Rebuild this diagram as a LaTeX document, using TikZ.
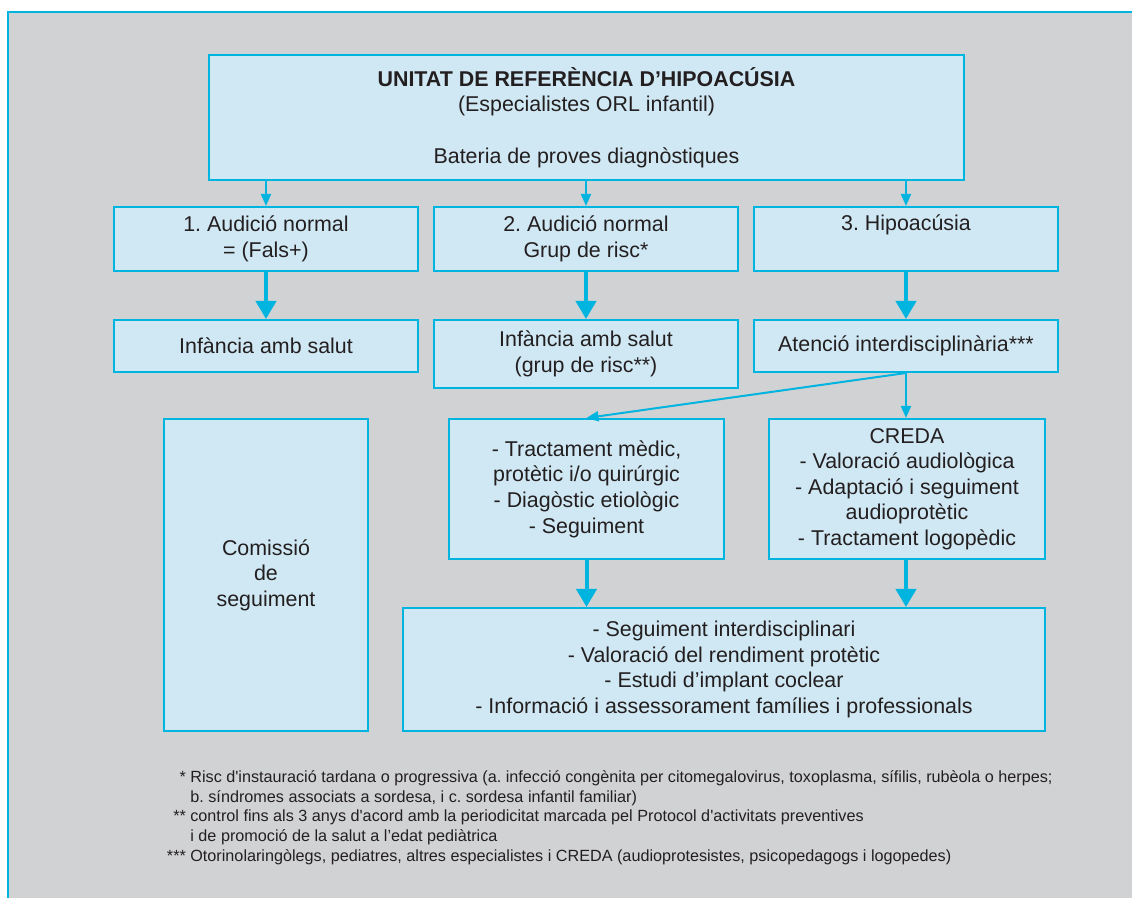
\documentclass[tikz,border=0pt]{standalone}
\usepackage{fontspec}
\setmainfont{Liberation Sans}
\usetikzlibrary{arrows.meta}
\definecolor{fonsgris}{HTML}{D1D2D4}
\definecolor{caixa}{HTML}{D0E8F3}
\definecolor{blau}{HTML}{00B4E0}
\definecolor{lletra}{HTML}{231F20}
\frenchspacing

\begin{document}
\begin{tikzpicture}[x=0.5pt,y=-0.5pt,
	caixa/.style={draw=blau,fill=caixa,line width=1pt,align=center,inner sep=0pt,
		text=lletra,font=\fontsize{10.7}{12.8}\selectfont},
	fletxa/.style={blau,line width=1pt,-{Triangle[width=5pt,length=6pt]}},
	fletxagran/.style={blau,line width=2pt,-{Triangle[width=10pt,length=9pt]}},
	nota/.style={align=left,inner sep=0pt,text=lletra,font=\fontsize{8.1}{9.85}\selectfont}]
	\useasboundingbox (0,0) rectangle (1132,898);
	\fill[fonsgris] (8,12) rectangle (1132,898);
	\draw[blau,line width=0.6pt] (8,898) -- (8,12) -- (1132,12);

	\node[caixa,minimum width=377.5pt,minimum height=62.5pt] (unitat) at (586.5,117.5)
		{\textbf{UNITAT DE REFERÈNCIA D’HIPOACÚSIA}\\(Especialistes ORL infantil)\\[12.8pt]Bateria de proves diagnòstiques};

	% primera fila
	\node[caixa,minimum width=152pt,minimum height=32pt] (normal) at (266,239) {1. Audició normal\\= (Fals+)};
	\node[caixa,minimum width=152pt,minimum height=32pt] (risc) at (586,239) {2. Audició normal\\Grup de risc*};
	\node[caixa,minimum width=152pt,minimum height=32pt] (hipo) at (906,239) {3. Hipoacúsia\\\strut};

	% segona fila
	\node[caixa,minimum width=152pt,minimum height=26pt] (salut) at (266,346) {Infància amb salut};
	\node[caixa,minimum width=152pt,minimum height=34pt] (salutrisc) at (586,354) {Infància amb salut\\(grup de risc**)};
	\node[caixa,minimum width=152pt,minimum height=26pt] (atencio) at (906,346) {Atenció interdisciplinària***};

	\node[caixa,minimum width=102pt,minimum height=156pt] (comissio) at (266,575) {Comissió\\de\\seguiment};
	\node[caixa,minimum width=137.5pt,minimum height=70pt] (tract) at (586.5,489)
		{- Tractament mèdic,\\protètic i/o quirúrgic\\- Diagòstic etiològic\\- Seguiment};
	\node[caixa,minimum width=138pt,minimum height=70pt] (creda) at (907,489)
		{CREDA\\- Valoració audiològica\\- Adaptació i seguiment\\audioprotètic\\- Tractament logopèdic};
	\node[caixa,minimum width=321pt,minimum height=61.5pt] (seguim) at (724,669.5)
		{- Seguiment interdisciplinari\\- Valoració del rendiment protètic\\- Estudi d’implant coclear\\- Informació i assessorament famílies i professionals};

	\foreach \n/\m in {normal/salut,risc/salutrisc,hipo/atencio}
	{
		\draw[fletxa] (unitat.south -| \n.north) -- (\n.north);
		\draw[fletxagran] (\n.south) -- (\m.north);
	}
	\draw[fletxa] (atencio.south) -- (tract.north);
	\draw[fletxa] (atencio.south) -- (atencio.south |- creda.north);
	\draw[fletxagran] (tract.south) -- (tract.south |- seguim.north);
	\draw[fletxagran] (atencio.south |- creda.south) -- (atencio.south |- seguim.north);

	\node[nota,anchor=north west] (notes) at (190,770)
		{\llap{*\ }Risc d\textquotesingle instauració tardana o progressiva (a. infecció congènita per citomegalovirus, toxoplasma, sífilis, rubèola o herpes;\\
		b. síndromes associats a sordesa, i c. sordesa infantil familiar)\\
		\llap{**\ }control fins als 3 anys d\textquotesingle acord amb la periodicitat marcada pel Protocol d\textquotesingle activitats preventives\\
		i de promoció de la salut a l’edat pediàtrica\\
		\llap{***\ }Otorinolaringòlegs, pediatres, altres especialistes i CREDA (audioprotesistes, psicopedagogs i logopedes)};
\end{tikzpicture}
\end{document}
